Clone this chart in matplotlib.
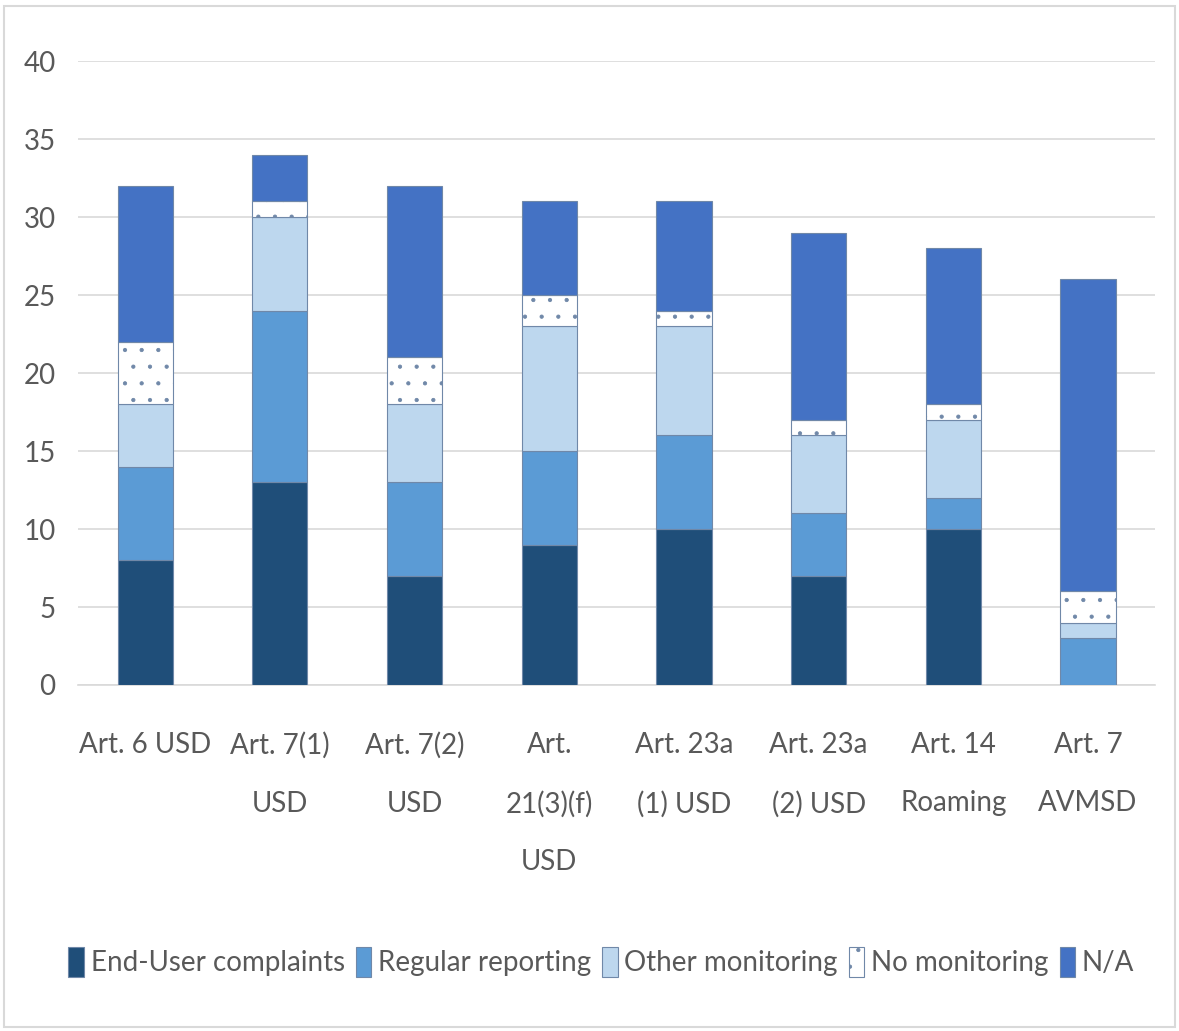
import numpy as np
import matplotlib.pyplot as plt
from matplotlib.patches import Rectangle

categories = ['Art. 6 USD', 'Art. 7(1)\nUSD', 'Art. 7(2)\nUSD', 'Art.\n21(3)(f)\nUSD',
              'Art. 23a\n(1) USD', 'Art. 23a\n(2) USD', 'Art. 14\nRoaming', 'Art. 7\nAVMSD']

end_user = [8, 13, 7, 9, 10, 7, 10, 0]
regular = [6, 11, 6, 6, 6, 4, 2, 3]
other = [4, 6, 5, 8, 7, 5, 5, 1]
no_monitoring = [4, 1, 3, 2, 1, 1, 1, 2]
not_applicable = [10, 3, 11, 6, 7, 12, 10, 20]

series = [
    ('End-User complaints', end_user, '#1F4E79', None),
    ('Regular reporting', regular, '#5B9BD5', None),
    ('Other monitoring', other, '#BDD7EE', None),
    ('No monitoring', no_monitoring, '#FFFFFF', '.'),
    ('N/A', not_applicable, '#4472C4', None),
]

plt.rcParams['font.family'] = ['Lato', 'DejaVu Sans']
plt.rcParams['hatch.linewidth'] = 0.6

fig = plt.figure(figsize=(11.79, 10.31), dpi=100)
ax = fig.add_axes([0.066, 0.3356, 0.914, 0.6052])

x = np.arange(len(categories))
bottom = np.zeros(len(categories))
for label, vals, color, hatch in series:
    vals = np.array(vals, dtype=float)
    ax.bar(x, vals, width=0.41, bottom=bottom, color=color, hatch=hatch,
           edgecolor='#7088A8', linewidth=0.8, label=label, zorder=3)
    bottom += vals

ax.set_xlim(-0.5, len(categories) - 0.5)
ax.set_ylim(0, 40)
ax.set_yticks(range(0, 41, 5))
ax.set_xticks(x)
ax.set_xticklabels(categories, fontsize=20, color='#595959', linespacing=2.5)
ax.tick_params(axis='y', labelsize=20, labelcolor='#595959', length=0, pad=16)
ax.tick_params(axis='x', length=0, pad=34)
ax.grid(axis='y', color='#D9D9D9', linewidth=1.2, zorder=0)
for side in ['top', 'right', 'left']:
    ax.spines[side].set_visible(False)
ax.spines['bottom'].set_color('#D9D9D9')
ax.spines['bottom'].set_linewidth(1.2)

fig.legend(loc='center', bbox_to_anchor=(0.51, 0.067), ncol=5, frameon=False,
           fontsize=20, handlelength=0.55, handleheight=1.3, handletextpad=0.25,
           columnspacing=0.4, labelcolor='#595959')

# thin border round the chart area
fig.add_artist(Rectangle((0.003, 0.004), 0.994, 0.99, transform=fig.transFigure,
                         fill=False, edgecolor='#D9D9D9', linewidth=1.5))

fig.savefig('out.png', dpi=100)
